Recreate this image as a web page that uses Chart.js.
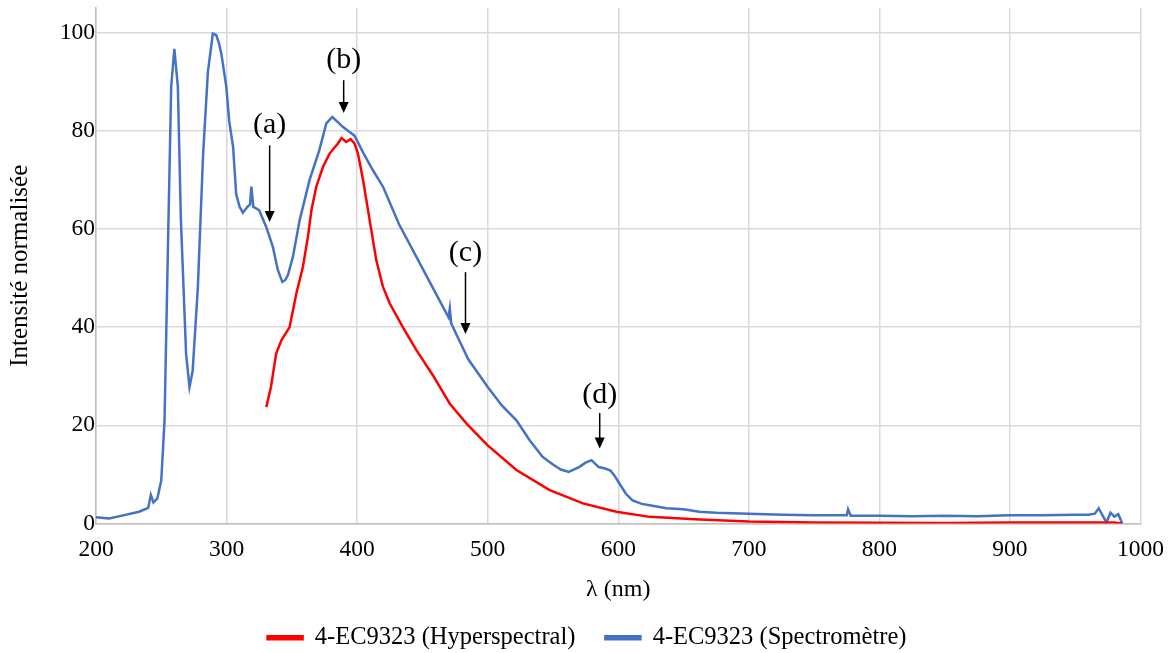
<!DOCTYPE html>
<html>
<head>
<meta charset="utf-8">
<script src="https://cdn.jsdelivr.net/npm/chart.js@4/dist/chart.umd.min.js"></script>
<style>
  html, body { margin: 0; padding: 0; background: #fff; }
  #wrap { width: 1174px; height: 653px; position: relative; }
</style>
</head>
<body>
<div id="wrap"><canvas id="c" width="1174" height="653"></canvas></div>
<script>
// ---- Data ----
const blueX = [200, 210, 220, 233, 240, 242, 244, 247, 250, 252.5, 255, 257.6, 260, 262.7, 265, 269, 271.6, 274, 278, 282, 285.7, 289.5, 292, 294, 296, 299.8, 302, 305, 307.4, 310, 312.5, 316, 318, 319, 320.5, 322, 325, 330.4, 335.5, 339.3, 342.7, 345, 347, 350.8, 356, 363.6, 371, 376.4, 381, 385, 389, 394, 398, 404.5, 412, 420, 432, 445, 458, 470, 471, 472, 485, 500, 511, 522, 532, 542, 550, 556, 562, 570, 575, 579.5, 585, 590, 594, 597, 601, 606, 611, 618, 624, 637, 650, 662, 675, 700, 726, 750, 775, 776, 778, 800, 825, 850, 875, 900, 925, 950, 960, 965, 968, 971, 974, 977, 980, 983, 986];
const blueY = [1.3, 1.0, 1.6, 2.4, 3.2, 5.8, 4.3, 5.1, 8.8, 21, 55, 89, 96.7, 89, 62, 34.6, 27.8, 31, 48, 75, 92, 99.8, 99.5, 98, 95.7, 89, 82, 76.7, 67, 64.5, 63.3, 64.5, 65, 68.6, 64.5, 64.3, 63.8, 60.4, 56.3, 51.6, 49.2, 49.6, 50.6, 54.3, 61.8, 70, 76, 81.5, 82.8, 81.8, 80.8, 79.8, 79, 75.6, 72, 68.5, 61, 54.5, 48, 42, 43.8, 40.8, 33.5, 27.8, 24, 21, 17, 13.6, 12, 11, 10.5, 11.5, 12.4, 12.9, 11.5, 11.2, 10.8, 9.8, 8.1, 6, 4.7, 4, 3.7, 3.1, 2.9, 2.4, 2.2, 2.0, 1.8, 1.7, 1.7, 2.9, 1.6, 1.6, 1.5, 1.6, 1.5, 1.7, 1.7, 1.8, 1.8, 2.0, 3.1, 1.6, 0.2, 2.2, 1.4, 1.9, 0];

const redX = [330.4, 334, 338, 342, 348.3, 353.4, 358.5, 362.3, 365, 368.7, 373.8, 379, 385.3, 388, 391.7, 395, 398, 400.6, 404.5, 409.6, 414.7, 419.8, 425, 435, 445.4, 458, 471, 484, 500, 522, 547.5, 573, 598.6, 624, 662.5, 700, 750, 800, 850, 900, 950, 980, 986];
const redY = [23.7, 27.8, 34.6, 37.3, 40, 46.8, 52.3, 58.4, 63.8, 68.6, 72.6, 75.4, 77.4, 78.5, 77.7, 78.3, 77.4, 75.4, 70, 61.8, 53.6, 48.2, 44.8, 40, 35.3, 30.2, 24.4, 20.3, 15.9, 10.9, 6.8, 4.1, 2.4, 1.35, 0.8, 0.4, 0.2, 0.15, 0.1, 0.2, 0.2, 0.2, 0];

const seriesNames = ['4-EC9323 (Hyperspectral)', '4-EC9323 (Spectromètre)'];
const xTicks = [200, 300, 400, 500, 600, 700, 800, 900, 1000];
const yTicks = [0, 20, 40, 60, 80, 100];

// Annotation labels, anchored in data coordinates: [label, x, labelY, arrowTopY, arrowTipY]
const notes = [
  ['(a)', 333, 81.1, 77, 61.4],
  ['(b)', 389.7, 94.4, 90.3, 83.6],
  ['(c)', 483, 55, 51.2, 38.6],
  ['(d)', 585.8, 26.1, 22.5, 15.3]
];

const FONT = '"Liberation Serif", "Times New Roman", serif';

const toPts = (xs, ys) => xs.map((x, i) => ({ x: x, y: ys[i] }));

const notePlugin = {
  id: 'notes',
  afterDatasetsDraw(chart) {
    const { ctx, scales: { x, y } } = chart;
    ctx.save();
    ctx.fillStyle = '#000';
    ctx.strokeStyle = '#000';
    ctx.font = '30px ' + FONT;
    ctx.textAlign = 'center';
    ctx.textBaseline = 'middle';
    notes.forEach(([lab, nx, ly, ay0, ay1]) => {
      const px = x.getPixelForValue(nx);
      ctx.fillText(lab, px, y.getPixelForValue(ly));
      const top = y.getPixelForValue(ay0);
      const tip = y.getPixelForValue(ay1);
      ctx.lineWidth = 1.5;
      ctx.beginPath();
      ctx.moveTo(px, top);
      ctx.lineTo(px, tip - 8);
      ctx.stroke();
      ctx.beginPath();
      ctx.moveTo(px - 5, tip - 11);
      ctx.lineTo(px + 5, tip - 11);
      ctx.lineTo(px, tip);
      ctx.closePath();
      ctx.fill();
    });
    ctx.restore();
  }
};

new Chart(document.getElementById('c'), {
  type: 'scatter',
  data: {
    datasets: [
      {
        label: seriesNames[0],
        data: toPts(redX, redY),
        showLine: true,
        borderColor: '#ff0000',
        backgroundColor: '#ff0000',
        borderWidth: 2.5,
        pointRadius: 0,
        tension: 0
      },
      {
        label: seriesNames[1],
        data: toPts(blueX, blueY),
        showLine: true,
        borderColor: '#4472c4',
        backgroundColor: '#4472c4',
        borderWidth: 2.5,
        pointRadius: 0,
        tension: 0
      }
    ]
  },
  options: {
    responsive: false,
    animation: false,
    layout: { padding: { left: 0, right: 0, top: 8, bottom: -7 } },
    plugins: {
      legend: {
        position: 'bottom',
        labels: {
          font: { family: FONT, size: 24.5 },
          color: '#000',
          boxWidth: 35,
          boxHeight: 3,
          padding: 30
        }
      },
      tooltip: { enabled: false }
    },
    scales: {
      x: {
        type: 'linear',
        min: 200,
        max: 1000,
        afterBuildTicks(axis) { axis.ticks = xTicks.map(v => ({ value: v })); },
        ticks: { font: { family: FONT, size: 23.5 }, color: '#000', padding: 12, maxRotation: 0, callback: v => String(v) },
        grid: { color: '#d9d9d9', lineWidth: 1.5, drawTicks: false },
        border: { color: '#bfbfbf', width: 1.5 },
        title: { display: true, text: 'λ (nm)', font: { family: FONT, size: 24 }, color: '#000', padding: { top: 0, bottom: -9 } },
        afterFit(axis) { axis.height = 72; axis.paddingRight = 33.5; }
      },
      y: {
        type: 'linear',
        min: 0,
        max: 105,
        afterBuildTicks(axis) { axis.ticks = yTicks.map(v => ({ value: v })); },
        ticks: { font: { family: FONT, size: 23.5 }, color: '#000', padding: 1, callback: v => String(v) },
        grid: { color: '#d9d9d9', lineWidth: 1.5, drawTicks: false },
        border: { color: '#bfbfbf', width: 1.5 },
        title: { display: true, text: 'Intensité normalisée', font: { family: FONT, size: 25 }, color: '#000', padding: { top: 5, bottom: 0 } },
        afterFit(axis) { axis.width = 96; axis.paddingTop = 0; axis.paddingBottom = 0; }
      }
    }
  },
  plugins: [notePlugin]
});
</script>
</body>
</html>
